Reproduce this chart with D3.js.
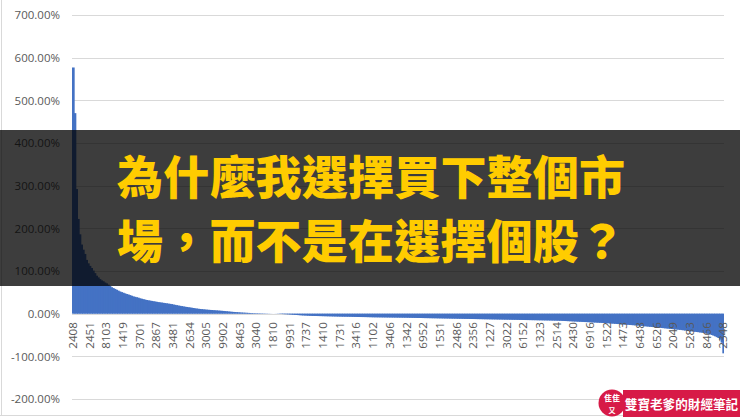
<!DOCTYPE html>
<html><head><meta charset="utf-8">
<script src="https://cdn.jsdelivr.net/npm/d3@7"></script>
<style>
html,body{margin:0;padding:0;background:#fff;}
svg{display:block;}
</style></head>
<body>
<script>
// Sorted returns (%) of individual stocks, one bar per stock
const returns = [
577,470,292,222,186,162,150,140,126,118,
112,107,101,95,89,85,81,78,76,73,
71,68,65,62,60,58,56,54,52,50.5,
49,47.5,46,45,43.5,42,40.5,39.5,38.5,37.5,
36,35,34,33,32,31.3,30.6,29.9,29.2,28.5,
27.8,27.1,26.5,26,25.4,24.8,24.2,23.6,23,22.4,
21.5,20.7,19.9,19.1,18.4,17.7,17,16.3,15.7,15.1,
14.5,13.9,13.3,12.5,12,11.5,11,10.6,10.2,9.8,
9.4,9.1,8.8,8.5,8.2,7.9,7.6,7.3,7,6.7,
6.4,6,5.6,5.2,4.8,4.4,4.1,3.8,3.5,3.2,
2.9,2.6,2.4,2.2,2,1.8,1.6,1.4,1.2,1.1,
1,0.9,0.8,0.7,0.6,0.5,0.4,0.3,0.2,0.1,
0,-0.1,-0.2,-0.4,-0.6,-0.8,-1,-1.2,-1.4,-1.6,
-1.9,-2.2,-2.5,-2.8,-3.1,-3.4,-3.7,-4,-4.2,-4.4,
-4.6,-4.8,-5,-5.2,-5.3,-5.4,-5.5,-5.6,-5.7,-5.8,
-5.9,-6,-6.1,-6.2,-6.3,-6.4,-6.5,-6.6,-6.7,-6.8,
-6.9,-7,-7.05,-7.1,-7.15,-7.2,-7.3,-7.4,-7.5,-7.6,
-7.7,-7.8,-7.85,-7.9,-7.95,-8,-8.1,-8.2,-8.3,-8.4,
-8.5,-8.55,-8.6,-8.65,-8.7,-8.75,-8.8,-8.85,-8.9,-8.95,
-9,-9.05,-9.1,-9.15,-9.2,-9.25,-9.3,-9.35,-9.4,-9.45,
-9.5,-9.6,-9.7,-9.8,-9.85,-9.9,-10,-10.1,-10.15,-10.2,
-10.3,-10.4,-10.45,-10.5,-10.6,-10.7,-10.75,-10.8,-10.9,-11,
-11.05,-11.1,-11.2,-11.3,-11.35,-11.4,-11.5,-11.6,-11.65,-11.7,
-11.8,-11.9,-11.95,-12,-12.1,-12.2,-12.25,-12.3,-12.4,-12.5,
-12.55,-12.6,-12.7,-12.8,-12.85,-12.9,-13,-13.1,-13.15,-13.2,
-13.3,-13.4,-13.45,-13.5,-13.6,-13.7,-13.75,-13.8,-13.9,-14,
-14.05,-14.1,-14.2,-14.3,-14.35,-14.4,-14.5,-14.6,-14.65,-14.7,
-14.8,-14.9,-14.95,-15,-15.1,-15.2,-15.25,-15.3,-15.4,-15.5,
-15.55,-15.6,-15.7,-15.8,-15.85,-15.9,-16,-16.1,-16.2,-16.3,
-16.4,-16.5,-16.6,-16.8,-17,-17.2,-17.4,-17.6,-17.8,-18,
-18.2,-18.4,-18.6,-18.8,-19,-19.2,-19.4,-19.6,-19.8,-20,
-20.2,-20.4,-20.6,-20.8,-21,-21.2,-21.4,-21.6,-21.8,-22,
-22.3,-22.6,-22.9,-23.2,-23.5,-23.8,-24.1,-24.4,-24.7,-25,
-25.3,-25.6,-25.9,-26.2,-26.5,-26.8,-27.1,-27.4,-27.7,-28,
-28.4,-28.8,-29.2,-29.6,-30,-30.4,-30.8,-31.2,-31.6,-32,
-32.4,-32.8,-33.2,-33.6,-34,-34.4,-34.8,-35.2,-35.6,-36,
-36.4,-36.8,-37.2,-37.6,-38,-38.5,-39,-39.5,-40,-40.5,
-41,-41.5,-42,-42.5,-43,-43.5,-44,-44.5,-45,-45.5,
-46.5,-47.5,-48.5,-50,-51.5,-53,-55,-57,-61,-68,
-93
];
// Category labels shown on the axis (every 10th stock)
const tickLabels = ["2408","2451","8103","1419","3701","2867","3481","2634","3005","9902",
"8463","3040","1810","9931","1737","1410","1731","3416","1102","3406",
"1342","6952","1531","2486","2356","1227","3022","6152","1323","2514",
"2430","6916","1522","1473","6438","6526","2049","5283","8466","2348"];
const labelStep = 10;
const yTicks = [-200,-100,0,100,200,300,400,500,600,700];
const titleLines = ["為什麼我選擇買下整個市","場，而不是在選擇個股？"];
const brandText = "雙寶老爹的財經筆記";

const W = 740, H = 417;
const svg = d3.select("body").append("svg").attr("width", W).attr("height", H);

const x = d3.scaleBand().domain(d3.range(returns.length)).range([72, 724]).padding(0);
const y = d3.scaleLinear().domain([-200, 700]).range([399, 15]);

// gridlines
svg.append("g").selectAll("line").data(yTicks).join("line")
  .attr("x1", 72).attr("x2", 724)
  .attr("y1", d => Math.round(y(d)) + 0.5).attr("y2", d => Math.round(y(d)) + 0.5)
  .attr("stroke", "#d9d9d9").attr("stroke-width", 1);

// bars
svg.append("g").selectAll("rect").data(returns).join("rect")
  .attr("x", (d, i) => x(i))
  .attr("width", (d, i) => x.bandwidth() + (i < returns.length - 1 ? 1 : 0))
  .attr("y", d => y(Math.max(0, d)))
  .attr("height", d => Math.abs(y(d) - y(0)))
  .attr("fill", "#4472C4");

// x axis labels
const xAxis = d3.axisBottom(x)
  .tickValues(d3.range(0, returns.length, labelStep))
  .tickFormat(i => tickLabels[i / labelStep])
  .tickSize(0);
const gx = svg.append("g").attr("transform", `translate(0,${y(0)})`).call(xAxis);
gx.select(".domain").remove();
gx.selectAll("text")
  .attr("y", 0).attr("x", -8.5).attr("dy", "0.36em")
  .attr("transform", "rotate(-90)")
  .style("text-anchor", "end")
  .style("font-family", "'Open Sans', sans-serif")
  .style("font-size", "11.6px")
  .attr("fill", "#595959");

// y axis labels
const yAxis = d3.axisLeft(y).tickValues(yTicks)
  .tickFormat(d => d.toFixed(2) + "%").tickSize(0).tickPadding(12);
const gy = svg.append("g").attr("transform", "translate(72,0)").call(yAxis);
gy.select(".domain").remove();
gy.selectAll("text")
  .style("font-family", "'Open Sans', sans-serif")
  .style("font-size", "11.5px")
  .attr("fill", "#595959");

// chart border
svg.append("line").attr("x1", 1.5).attr("x2", 1.5).attr("y1", 0).attr("y2", 415.5)
  .attr("stroke", "#d9d9d9");
svg.append("line").attr("x1", 0).attr("x2", W).attr("y1", 415.5).attr("y2", 415.5)
  .attr("stroke", "#d9d9d9");

// banner
svg.append("rect").attr("x", 0).attr("y", 130).attr("width", W).attr("height", 156)
  .attr("fill", "#000").attr("fill-opacity", 0.76);
svg.append("g").selectAll("text").data(titleLines).join("text")
  .attr("x", 117)
  .attr("y", (d, i) => 174 + i * 64)
  .attr("dominant-baseline", "central")
  .style("font-family", "'Noto Sans CJK TC', 'Noto Sans CJK SC', sans-serif")
  .style("font-weight", 900)
  .style("font-size", "46px")
  .style("letter-spacing", "0.2px")
  .attr("fill", "#FFCC00")
  .text(d => d);

// brand logo
const red = "#D71A47";
svg.append("rect").attr("x", 623).attr("y", 390).attr("width", 117).attr("height", 27).attr("fill", red);
svg.append("circle").attr("cx", 612).attr("cy", 403).attr("r", 13.5).attr("fill", red);
svg.append("text").attr("x", 612).attr("y", 397.5).attr("text-anchor", "middle")
  .attr("dominant-baseline", "central")
  .style("font-family", "'Noto Sans CJK TC', sans-serif").style("font-weight", 700)
  .style("font-size", "8px").attr("fill", "#fff").text("隹隹");
svg.append("text").attr("x", 612).attr("y", 409.5).attr("text-anchor", "middle")
  .attr("dominant-baseline", "central")
  .style("font-family", "'Noto Sans CJK TC', sans-serif").style("font-weight", 700)
  .style("font-size", "7px").attr("fill", "#fff").text("又");
svg.append("text").attr("x", 681.5).attr("y", 403).attr("text-anchor", "middle")
  .attr("dominant-baseline", "central")
  .style("font-family", "'Noto Sans CJK TC', sans-serif").style("font-weight", 700)
  .style("font-size", "12.6px").attr("fill", "#fff").text(brandText);
</script>
</body></html>
